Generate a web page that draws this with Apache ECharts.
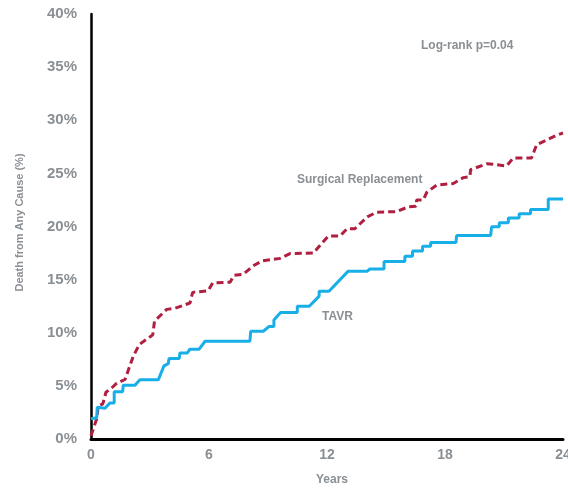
<!DOCTYPE html>
<html>
<head>
<meta charset="utf-8">
<script src="https://cdn.jsdelivr.net/npm/echarts@6/dist/echarts.min.js"></script>
<style>html,body{margin:0;padding:0;background:#fff;overflow:hidden;}#c{width:568px;height:494px;}</style>
</head>
<body>
<div id="c"></div>
<script>
// Months and cumulative death (%) for TAVR
const tavrMonths = [0, 0.29, 0.32, 0.71, 0.97, 1.18, 1.18, 1.61, 1.64, 2.24, 2.49, 3.42, 3.71, 3.93, 3.97, 4.49, 4.52, 4.9, 5.03, 5.5, 5.8, 8.08, 8.12, 8.76, 9.06, 9.3, 9.3, 9.64, 10.49, 10.49, 11.1, 11.6, 11.6, 12.1, 13.08, 14.05, 14.18, 14.9, 14.9, 15.96, 15.96, 16.35, 16.35, 16.86, 16.86, 17.27, 17.27, 18.56, 18.59, 20.32, 20.37, 20.76, 20.76, 21.22, 21.22, 21.77, 21.77, 22.35, 22.35, 23.25, 23.25, 24];
const tavrValues = [1.9, 2.0, 3.0, 2.9, 3.4, 3.4, 4.45, 4.45, 5.07, 5.07, 5.57, 5.57, 6.88, 7.1, 7.58, 7.58, 8.1, 8.1, 8.45, 8.45, 9.2, 9.2, 10.14, 10.14, 10.6, 10.6, 11.2, 11.9, 11.9, 12.5, 12.5, 13.45, 13.9, 13.9, 15.8, 15.8, 16.0, 16.0, 16.7, 16.7, 17.2, 17.2, 17.7, 17.7, 18.15, 18.15, 18.5, 18.5, 19.15, 19.15, 19.97, 19.97, 20.35, 20.35, 20.8, 20.8, 21.2, 21.2, 21.6, 21.6, 22.6, 22.6];
// Months and cumulative death (%) for Surgical Replacement
const surgMonths = [0, 0.29, 0.37, 0.6, 0.76, 1.05, 1.31, 1.73, 2.15, 2.46, 3.14, 3.23, 3.85, 4.27, 5.03, 5.17, 5.96, 6.19, 7.07, 7.27, 7.74, 8.25, 8.68, 9.61, 10.12, 11.3, 12.06, 12.66, 13.03, 13.42, 14.05, 14.52, 15.54, 16.13, 16.52, 16.56, 16.89, 17.07, 17.57, 18.42, 18.93, 19.27, 19.3, 20.12, 20.45, 21.13, 21.47, 22.4, 22.66, 23.68, 24];
const surgValues = [0.3, 1.9, 3.1, 3.3, 4.4, 4.8, 5.25, 5.6, 7.8, 8.9, 9.8, 11.1, 12.2, 12.3, 12.8, 13.8, 13.95, 14.7, 14.75, 15.4, 15.5, 16.3, 16.75, 17.0, 17.45, 17.5, 19.1, 19.1, 19.8, 19.8, 20.9, 21.35, 21.4, 21.85, 21.9, 22.5, 22.5, 23.2, 23.9, 24.05, 24.6, 24.7, 25.35, 25.9, 25.85, 25.7, 26.45, 26.45, 27.7, 28.6, 28.8];
const xTicks = [0, 6, 12, 18, 24];
const yTicks = [0, 5, 10, 15, 20, 25, 30, 35, 40];
const labels = { pval: 'Log-rank p=0.04', surg: 'Surgical Replacement', tavr: 'TAVR', xName: 'Years', yName: 'Death from Any Cause (%)' };

const zip = (a, b) => a.map((v, i) => [v, b[i]]);
const gray = '#8a8f94';
const font = '"Liberation Sans", Arial, sans-serif';

const chart = echarts.init(document.getElementById('c'), null, { renderer: 'canvas' });
chart.setOption({
  animation: false,
  backgroundColor: '#fff',
  grid: { left: 91, right: 5, top: 14, bottom: 55, containLabel: false, outerBoundsMode: 'none' },
  xAxis: {
    type: 'value', min: xTicks[0], max: xTicks[xTicks.length - 1], interval: 6,
    name: labels.xName, nameLocation: 'middle', nameGap: 35,
    nameTextStyle: { color: gray, fontSize: 12, fontWeight: 'bold', fontFamily: font, padding: [0, 0, 0, 10] },
    axisLine: { show: true, lineStyle: { color: '#000', width: 3 } },
    axisTick: { show: false },
    splitLine: { show: false },
    axisLabel: { color: gray, fontSize: 14, fontWeight: 'bold', fontFamily: font, margin: 9 }
  },
  yAxis: {
    type: 'value', min: yTicks[0], max: yTicks[yTicks.length - 1], interval: 5,
    name: labels.yName, nameLocation: 'middle', nameGap: 66, nameRotate: 90,
    nameTextStyle: { color: gray, fontSize: 11, fontWeight: 'bold', fontFamily: font, padding: [0, 0, 0, 8] },
    axisLine: { show: true, lineStyle: { color: '#000', width: 2.5 } },
    axisTick: { show: false },
    splitLine: { show: false },
    axisLabel: { color: gray, fontSize: 15, fontWeight: 'bold', fontFamily: font, margin: 14, formatter: '{value}%' }
  },
  series: [
    {
      name: labels.surg, type: 'line', data: zip(surgMonths, surgValues), showSymbol: false,
      lineStyle: { color: '#b01e40', width: 3, type: [7, 4] }, z: 3
    },
    {
      name: labels.tavr, type: 'line', data: zip(tavrMonths, tavrValues), showSymbol: false,
      lineStyle: { color: '#18afe8', width: 3 }, z: 4
    }
  ],
  graphic: [
    { type: 'text', left: 421, top: 40, style: { text: labels.pval, fill: gray, font: 'bold 12px ' + font } },
    { type: 'text', left: 297, top: 174, style: { text: labels.surg, fill: gray, font: 'bold 12px ' + font } },
    { type: 'text', left: 322, top: 311, style: { text: labels.tavr, fill: gray, font: 'bold 12px ' + font } }
  ]
});
</script>
</body>
</html>
